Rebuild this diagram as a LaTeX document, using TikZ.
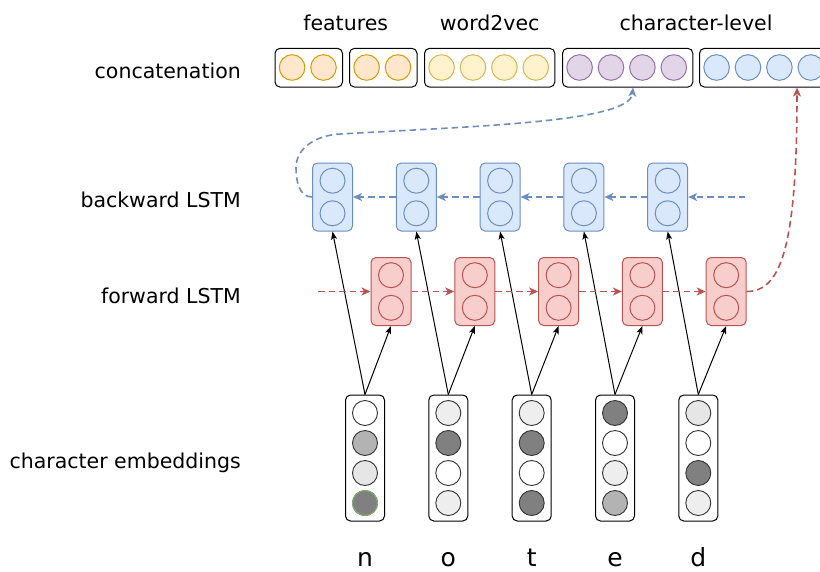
\documentclass[tikz,border=0pt]{standalone}
\usepackage{fontspec}
\setmainfont{DejaVu Sans}
\usetikzlibrary{arrows.meta}
\definecolor{bfill}{HTML}{DAE8FC}
\definecolor{bline}{HTML}{6C8EBF}
\definecolor{rfill}{HTML}{F8CECC}
\definecolor{rline}{HTML}{B85450}
\definecolor{ofill}{HTML}{FFE6CC}
\definecolor{oline}{HTML}{D79B00}
\definecolor{yfill}{HTML}{FFF2CC}
\definecolor{yline}{HTML}{D6B656}
\definecolor{pfill}{HTML}{E1D5E7}
\definecolor{pline}{HTML}{9673A6}
\definecolor{gline}{HTML}{82B366}
\definecolor{gA}{HTML}{808080}
\definecolor{gB}{HTML}{B3B3B3}
\definecolor{gC}{HTML}{E6E6E6}
\definecolor{gD}{HTML}{EEEEEE}
\definecolor{cstroke}{HTML}{333333}
\begin{document}
\begin{tikzpicture}[x=1pt,y=1pt,
  lbl/.style={font=\fontsize{20.5}{24}\selectfont, inner sep=0, anchor=base east},
  toplbl/.style={font=\fontsize{20.5}{24}\selectfont, inner sep=0, anchor=base},
  ltr/.style={font=\fontsize{25}{30}\selectfont, inner sep=0, anchor=base},
  cbox/.style={draw=black, line width=1pt, rounded corners=5pt, minimum height=38.7pt, inner sep=0},
  cdot/.style={circle, inner sep=0, minimum size=25.6pt, line width=1pt},
  bbox/.style={draw=bline, fill=bfill, rounded corners=5pt, minimum width=40pt, minimum height=68pt, inner sep=0, line width=1pt},
  rbox/.style={draw=rline, fill=rfill, rounded corners=5pt, minimum width=40pt, minimum height=68pt, inner sep=0, line width=1pt},
  bcirc/.style={circle, draw=bline, fill=bfill, minimum size=25pt, inner sep=0, line width=1pt},
  rcirc/.style={circle, draw=rline, fill=rfill, minimum size=25pt, inner sep=0, line width=1pt},
  ebox/.style={draw=black, fill=white, rounded corners=5pt, minimum width=39pt, minimum height=126pt, inner sep=0, line width=1pt},
  ecirc/.style={circle, draw=cstroke, minimum size=25pt, inner sep=0, line width=0.9pt},
  bdash/.style={draw=bline, line width=1.6pt, dash pattern=on 6.5pt off 4pt, -{Stealth[length=9pt,width=8pt,inset=2.5pt]}},
  rdash/.style={draw=rline, line width=1.6pt, dash pattern=on 6.5pt off 4pt, -{Stealth[length=9pt,width=8pt,inset=2.5pt]}},
  blk/.style={draw=black, line width=1pt, -{Stealth[length=8pt,width=6pt,inset=2pt]}}
]
\useasboundingbox (0,0) rectangle (820,-571);

% labels
\node[lbl] (Lc) at (241,-78.3) {concatenation};
\node[lbl] (Lb) at (241,-207.3) {backward LSTM};
\node[lbl] (Lf) at (241,-303.3) {forward LSTM};
\node[lbl] (Le) at (241,-468) {character embeddings};
\node[toplbl] (Tf) at (345.7,-30) {features};
\node[toplbl] (Tw) at (489.7,-30) {word2vec};
\node[toplbl] (Tc) at (696,-30) {character-level};

% concatenation row
\node[cbox, minimum width=67.5pt] (cf1) at (308.75,-67.7) {};
\node[cbox, minimum width=67.5pt] (cf2) at (383.25,-67.7) {};
\node[cbox, minimum width=130.3pt] (cw) at (489.65,-67.7) {};
\node[cbox, minimum width=130.3pt] (cp) at (627.65,-67.7) {};
\node[cbox, minimum width=130.3pt] (cb) at (764.65,-67.7) {};
\foreach \k in {0,1}{
  \node[cdot, draw=oline, fill=ofill] (cf1-\k) at (275+17.1+\k*31.4,-67.5) {};
  \node[cdot, draw=oline, fill=ofill] (cf2-\k) at (349.5+17.1+\k*31.4,-67.5) {};
}
\foreach \k in {0,1,2,3}{
  \node[cdot, draw=yline, fill=yfill] (cw-\k) at (424.5+17.1+\k*31.4,-67.5) {};
  \node[cdot, draw=pline, fill=pfill] (cp-\k) at (562.5+17.1+\k*31.4,-67.5) {};
  \node[cdot, draw=bline, fill=bfill] (cb-\k) at (699.5+17.1+\k*31.4,-67.5) {};
}

% LSTM boxes
\foreach \i/\x in {1/332.5,2/416.3,3/500.1,4/583.9,5/667.7}{
  \node[bbox] (b\i) at (\x,-197) {};
  \node[bcirc] (b\i a) at (\x,-180.7) {};
  \node[bcirc] (b\i b) at (\x,-213.3) {};
}
\foreach \i/\x in {1/391,2/474.8,3/558.6,4/642.4,5/726.2}{
  \node[rbox] (f\i) at (\x,-291.5) {};
  \node[rcirc] (f\i a) at (\x,-275.2) {};
  \node[rcirc] (f\i b) at (\x,-307.8) {};
}

% embeddings
\foreach \i/\x/\ca/\cb/\cc/\cd/\t in {1/365/white/gB/gC/gA/n,2/448.3/gD/gA/white/gD/o,3/531.7/gD/gA/white/gA/t,4/615/gA/white/gD/gB/e,5/698.3/gC/white/gA/gD/d}{
  \node[ebox] (e\i) at (\x,-458) {};
  \node[ecirc, fill=\ca] (e\i-1) at (\x,-413) {};
  \node[ecirc, fill=\cb] (e\i-2) at (\x,-443) {};
  \node[ecirc, fill=\cc] (e\i-3) at (\x,-473) {};
  \node[ecirc, fill=\cd] (e\i-4) at (\x,-503) {};
  \node[ltr] (l\i) at (\x,-566.5) {\t};
}
\node[ecirc, fill=gA, draw=gline] (e1-4g) at (365,-503) {};

% black arrows
\foreach \i in {1,...,5}{
  \draw[blk] (e\i.north) -- (b\i.south);
  \draw[blk] (e\i.north) -- (f\i.south);
}

% backward chain
\coordinate (bstart) at (745,-197);
\draw[bdash] (bstart) -- (b5.east);
\draw[bdash] (b5.west) -- (b4.east);
\draw[bdash] (b4.west) -- (b3.east);
\draw[bdash] (b3.west) -- (b2.east);
\draw[bdash] (b2.west) -- (b1.east);
\coordinate (bloop) at (296,-168);
\coordinate (btop) at (340,-134);
\draw[bdash] (b1.west) to[out=180,in=-90] (bloop) to[out=90,in=183] (btop)
  .. controls (480,-126) and (630,-122) .. ([xshift=5.35pt]cp.south);

% forward chain
\coordinate (fstart) at (318,-291.5);
\draw[rdash] (fstart) -- (f1.west);
\draw[rdash] (f1.east) -- (f2.west);
\draw[rdash] (f2.east) -- (f3.west);
\draw[rdash] (f3.east) -- (f4.west);
\draw[rdash] (f4.east) -- (f5.west);
\draw[rdash] (f5.east) .. controls (780,-291.5) and (797,-250) .. ([xshift=32.35pt]cb.south);
\end{tikzpicture}
\end{document}
